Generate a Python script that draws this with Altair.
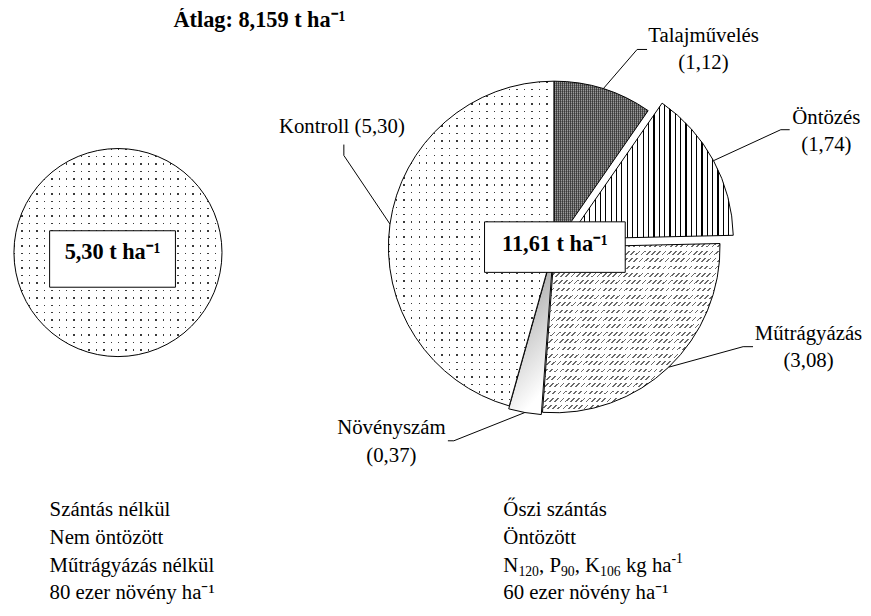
import math
import altair as alt
import pandas as pd

# ---------------- data ----------------
categories = ["Talajművelés", "Öntözés", "Műtrágyázás", "Növényszám", "Kontroll"]
values = [1.12, 1.74, 3.08, 0.37, 5.30]
base_value = 5.30           # left pie (kontroll)
avg_value = "8,159"
left_notes = ["Szántás nélkül", "Nem öntözött", "Műtrágyázás nélkül", "80 ezer növény ha⁻¹"]
right_notes = ["Őszi szántás", "Öntözött", None, "60 ezer növény ha⁻¹"]
# third right note with real sub/superscripts: (text, role)
npk_parts = [("N", "base"), ("120", "sub"), (", P", "base"), ("90", "sub"), (", K", "base"),
             ("106", "sub"), (" kg ha", "base"), ("-1", "sup")]

# ---------------- layout / style (screen px) ----------------
OFF = 8
FONT = "Liberation Serif, Times New Roman, serif"
BIG_C = (559, 246)
BIG_R = 167
SMALL_C = (119, 252)
SMALL_R = 105
explode = {"Talajművelés": 0, "Öntözés": 16, "Műtrágyázás": 1, "Növényszám": 3, "Kontroll": 0}
label_pos = {
    "Talajművelés": dict(tx=710, ty=33, elbow=(643, 47), end=(653, 47), sep="\n"),
    "Öntözés": dict(tx=834, ty=116, elbow=(788, 128), end=(797, 128), sep="\n"),
    "Műtrágyázás": dict(tx=816, ty=334, elbow=(750, 347), end=(760, 347), sep="\n"),
    "Növényszám": dict(tx=395, ty=429, elbow=(458, 442), end=(452, 442), sep="\n"),
    "Kontroll": dict(tx=345, ty=125, elbow=(347, 154), end=(347, 143), sep=" "),
}
BIG_BOX = (489, 221, 631, 272)
SMALL_BOX = (50, 230, 177, 287)
LABEL_SIZE = 21
NOTE_SIZE = 21
NOTE_X = (50, 508)
NOTE_Y0, NOTE_DY = 512, 28
# Times-like advance widths (em) for sub/superscript layout
EM = {"N": .722, "P": .556, "K": .722, ",": .25, " ": .25, "k": .5, "g": .5,
      "h": .5, "a": .444, "-": .333}


def fmt(v, d=2):
    return f"{v:.{d}f}".replace(".", ",")


def wedge_bbox(r, a0, a1):
    xs, ys = [0.0], [0.0]
    n = 200
    for i in range(n + 1):
        a = a0 + (a1 - a0) * i / n
        xs.append(r * math.sin(a))
        ys.append(-r * math.cos(a))
    return max(xs) - min(xs), max(ys) - min(ys)


def stripes(n, on, off, duty, x1, y1, x2, y2):
    stops = []
    for i in range(n):
        a = i / n
        b = (i + duty) / n
        c = (i + 1) / n
        stops += [alt.GradientStop(color=on, offset=a), alt.GradientStop(color=on, offset=b),
                  alt.GradientStop(color=off, offset=b), alt.GradientStop(color=off, offset=c)]
    return alt.LinearGradient(gradient="linear", stops=stops, x1=x1, y1=y1, x2=x2, y2=y2)


CLEAR = "rgba(255,255,255,0)"

# ---------------- derived table ----------------
total = sum(values)
rows = []
cum = 0.0
for cat, v in zip(categories, values):
    a0 = cum / total * 2 * math.pi
    a1 = (cum + v) / total * 2 * math.pi
    mid = (a0 + a1) / 2
    e = explode[cat]
    cx = BIG_C[0] + e * math.sin(mid)
    cy = BIG_C[1] - e * math.cos(mid)
    lp = label_pos[cat]
    rows.append(dict(
        cat=cat, value=v, start=cum, end=cum + v,
        px=cx - OFF, py=cy - OFF,
        ex=cx + BIG_R * math.sin(mid) - OFF, ey=cy - BIG_R * math.cos(mid) - OFF,
        bx=lp["elbow"][0] - OFF, by=lp["elbow"][1] - OFF,
        fx=lp["end"][0] - OFF, fy=lp["end"][1] - OFF,
        tx=lp["tx"] - OFF, ty=lp["ty"] - OFF,
        label=(cat + lp["sep"] + "(" + fmt(v) + ")").split("\n"),
    ))
    cum += v
df = pd.DataFrame(rows)
bbox = {r["cat"]: wedge_bbox(BIG_R, r["start"] / total * 2 * math.pi, r["end"] / total * 2 * math.pi) for r in rows}

theta_scale = alt.Scale(domain=[0, total], range=[0, 2 * math.pi], nice=False, zero=False)


def wedge(cat, fill, stroke=None):
    kw = dict(fill=fill, strokeWidth=1)
    if stroke:
        kw["stroke"] = stroke
    else:
        kw["strokeOpacity"] = 0
    return alt.Chart(df).transform_filter(alt.datum.cat == cat).mark_arc(
        outerRadius=BIG_R, **kw
    ).encode(
        theta=alt.Theta("start:Q", scale=theta_scale),
        theta2="end:Q",
        x=alt.X("px:Q", scale=None, axis=None),
        y=alt.Y("py:Q", scale=None, axis=None),
    )


DOT = 7.4
DOT_COLOR = "#3a3a3a"
DOT_DUTY = 0.19
layers = []

# Talajművelés: dark fine crosshatch
w, h = bbox["Talajművelés"]
layers.append(wedge("Talajművelés", stripes(int(w / 2), "#4a4a4a", "#9a9a9a", 0.5, 0, 0, 1, 0)))
layers.append(wedge("Talajművelés", stripes(int(h / 2), "rgba(30,30,30,0.35)", CLEAR, 0.5, 0, 0, 0, 1), "black"))

# Öntözés: vertical stripes
w, h = bbox["Öntözés"]
layers.append(wedge("Öntözés", stripes(int(w / 5.3), "black", "white", 0.24, 0, 0, 1, 0), "black"))

# Műtrágyázás: rows of short diagonal dashes
w, h = bbox["Műtrágyázás"]
layers.append(wedge("Műtrágyázás", stripes(int(math.hypot(w, h) / 3.6), "#6a6a6a", "white", 0.33, 0, 0, 1, 1)))
layers.append(wedge("Műtrágyázás", stripes(int(h / 7.3), CLEAR, "white", 0.5, 0, 0, 0, 1), "black"))

# Növényszám: gradient
layers.append(wedge("Növényszám", alt.LinearGradient(
    gradient="linear", x1=0, y1=0, x2=0.3, y2=1,
    stops=[alt.GradientStop(color="#8a8a8a", offset=0), alt.GradientStop(color="#ffffff", offset=1)]), "black"))

# Kontroll: dotted
w, h = bbox["Kontroll"]
layers.append(wedge("Kontroll", stripes(int(w / DOT), DOT_COLOR, "white", DOT_DUTY, 0, 0, 1, 0)))
layers.append(wedge("Kontroll", stripes(int(h / DOT), CLEAR, "white", DOT_DUTY, 0, 0, 0, 1), "black"))

# small pie (kontroll only, full circle)
sdf = pd.DataFrame({"cat": ["Kontroll"], "start": [0.0], "end": [base_value],
                    "px": [SMALL_C[0] - OFF], "py": [SMALL_C[1] - OFF]})
s_scale = alt.Scale(domain=[0, base_value], range=[0, 2 * math.pi], nice=False, zero=False)


def small(fill, stroke=None):
    kw = dict(fill=fill, strokeWidth=1)
    if stroke:
        kw["stroke"] = stroke
    else:
        kw["strokeOpacity"] = 0
    return alt.Chart(sdf).mark_arc(outerRadius=SMALL_R, **kw).encode(
        theta=alt.Theta("start:Q", scale=s_scale), theta2="end:Q",
        x=alt.X("px:Q", scale=None, axis=None), y=alt.Y("py:Q", scale=None, axis=None))


n = int(2 * SMALL_R / DOT)
small_pie = alt.layer(
    small(stripes(n, DOT_COLOR, "white", DOT_DUTY, 0, 0, 1, 0)),
    small(stripes(n, CLEAR, "white", DOT_DUTY, 0, 0, 0, 1), "black"),
)

# leader lines
lead1 = alt.Chart(df).mark_rule(color="black", strokeWidth=1).encode(
    x=alt.X("ex:Q", scale=None), y=alt.Y("ey:Q", scale=None), x2="bx:Q", y2="by:Q")
lead2 = alt.Chart(df).mark_rule(color="black", strokeWidth=1).encode(
    x=alt.X("bx:Q", scale=None), y=alt.Y("by:Q", scale=None), x2="fx:Q", y2="fy:Q")
labels = alt.Chart(df).mark_text(font=FONT, fontSize=LABEL_SIZE, align="center", baseline="middle",
                                 lineHeight=28, color="black").encode(
    x=alt.X("tx:Q", scale=None), y=alt.Y("ty:Q", scale=None), text="label")

# value boxes
boxes = pd.DataFrame({
    "x": [BIG_BOX[0] - OFF, SMALL_BOX[0] - OFF], "x2": [BIG_BOX[2] - OFF, SMALL_BOX[2] - OFF],
    "y": [BIG_BOX[1] - OFF, SMALL_BOX[1] - OFF], "y2": [BIG_BOX[3] - OFF, SMALL_BOX[3] - OFF],
    "text": [fmt(total) + " t ha⁻¹", fmt(base_value) + " t ha⁻¹"],
})
boxes["tx"] = (boxes["x"] + boxes["x2"]) / 2
boxes["ty"] = boxes["y"] + 22
box_rect = alt.Chart(boxes).mark_rect(fill="white", stroke="black", strokeWidth=1).encode(
    x=alt.X("x:Q", scale=None), x2="x2:Q", y=alt.Y("y:Q", scale=None), y2="y2:Q")
box_text = alt.Chart(boxes).mark_text(font=FONT, fontSize=22.5, fontWeight="bold", color="black",
                                      baseline="middle", align="center").encode(
    x=alt.X("tx:Q", scale=None), y=alt.Y("ty:Q", scale=None), text="text")

# title
tdf = pd.DataFrame({"text": ["Átlag: " + avg_value + " t ha⁻¹"], "x": [175 - OFF], "y": [17 - OFF]})
title = alt.Chart(tdf).mark_text(font=FONT, fontSize=22.5, fontWeight="bold", color="black",
                                 align="left", baseline="middle").encode(
    x=alt.X("x:Q", scale=None), y=alt.Y("y:Q", scale=None), text="text")

# notes (plain lines)
note_rows = []
for col, lst in enumerate([left_notes, right_notes]):
    for i, t in enumerate(lst):
        if t is not None:
            note_rows.append(dict(text=t, x=NOTE_X[col] - OFF, y=NOTE_Y0 + NOTE_DY * i - OFF, fs=NOTE_SIZE))
# NPK line built from parts with sub/superscripts (leading spaces become x advance)
SUB = NOTE_SIZE * 0.66
cx = NOTE_X[1]
for txt, role in npk_parts:
    fs = NOTE_SIZE if role == "base" else SUB
    dy = 0 if role == "base" else (6 if role == "sub" else -7)
    stripped = txt.lstrip(" ")
    cx += (len(txt) - len(stripped)) * EM[" "] * fs
    note_rows.append(dict(text=stripped, x=cx - OFF, y=NOTE_Y0 + NOTE_DY * 2 + dy - OFF, fs=fs))
    cx += sum(EM.get(ch, 0.5) for ch in stripped) * fs
ndf = pd.DataFrame(note_rows)
notes = alt.Chart(ndf).mark_text(font=FONT, color="black", align="left", baseline="middle").encode(
    x=alt.X("x:Q", scale=None), y=alt.Y("y:Q", scale=None), text="text",
    size=alt.Size("fs:Q", scale=None, legend=None))

big_pie = alt.layer(*layers)
chart = alt.layer(
    big_pie, small_pie, lead1, lead2, labels, box_rect, box_text, title, notes
).resolve_scale(theta="independent").properties(
    width=871 - OFF, height=616 - OFF, padding=0,
    autosize=alt.AutoSizeParams(type="none"),
).configure_view(stroke=None)

chart.save("out.html", embed_options={"renderer": "svg", "actions": False})
